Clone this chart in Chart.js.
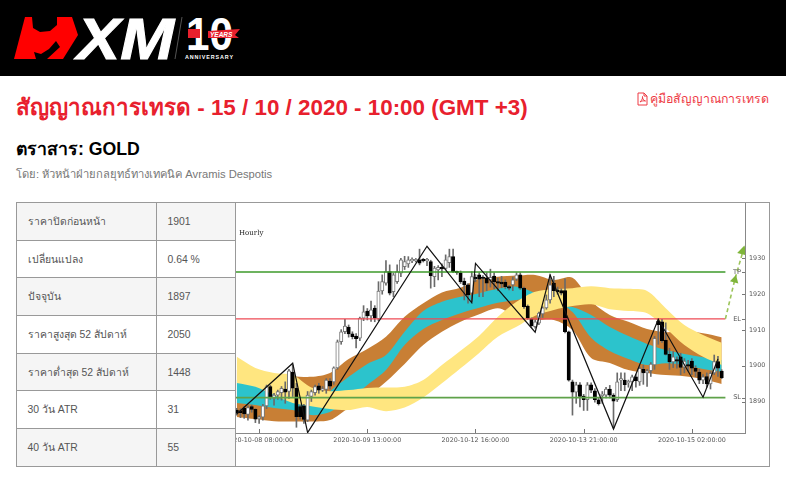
<!DOCTYPE html>
<html lang="th"><head><meta charset="utf-8">
<script src="https://cdn.jsdelivr.net/npm/chart.js@4/dist/chart.umd.min.js"></script>
<style>
html,body{margin:0;padding:0;background:#fff;width:786px;height:479px;overflow:hidden;font-family:"Liberation Sans",Arial,sans-serif}
#hdr{position:absolute;left:0;top:0;width:786px;height:76px;background:#000}
#title{position:absolute;left:16px;top:94px;font-size:22.4px;font-weight:bold;color:#e8202d;white-space:nowrap;line-height:28px}
#link{position:absolute;left:650px;top:91px;font-size:12.35px;color:#ee3a45;white-space:nowrap;line-height:16px}
#ico{position:absolute;left:637px;top:92px}
#inst{position:absolute;left:16px;top:138px;font-size:17.7px;font-weight:bold;color:#000;white-space:nowrap;line-height:22px}
#by{position:absolute;left:16px;top:166px;font-size:11.2px;color:#777;white-space:nowrap;line-height:16px}
table{position:absolute;left:16px;top:202px;border-collapse:collapse;table-layout:fixed;width:220px;font-size:10.4px;color:#555}
td{border:1px solid #999;height:37.7px;padding:0 0 0 10.5px;box-sizing:border-box}
td:first-child{width:140px}
tr:nth-child(odd) td{background:#f5f5f5}
#frame{position:absolute;left:235px;top:202px;width:533px;height:263px;border:1px solid #999}
#cw{position:absolute;left:236px;top:203px;width:533px;height:263px}
</style></head><body>
<div id="hdr">
<svg width="260" height="76" style="position:absolute;left:0;top:0">
<polygon points="14,59 25,17 72,17 78,35 63,59" fill="#ff0000"/>
<polygon points="32,17 33,28 40,32 50,31 57,25 57,17" fill="#000"/>
<polygon points="34,52 36,59 47,59 60,47 56,41 49,49 41,54" fill="#000"/>
<text x="77" y="59" font-family="Liberation Sans" font-weight="bold" font-style="italic" font-size="58" fill="#fff" stroke="#fff" stroke-width="1" textLength="97" lengthAdjust="spacingAndGlyphs">XM</text>
<line x1="182" y1="17" x2="175" y2="59" stroke="#555" stroke-width="1"/>
<text x="186" y="50" font-family="Liberation Sans" font-weight="bold" font-size="46" fill="#fff" textLength="47" lengthAdjust="spacingAndGlyphs">10</text>
<rect x="188" y="29" width="12" height="9" fill="#e8202d"/>
<polygon points="208,31 240,29 235,35 239,38 208,38" fill="#e8202d"/>
<text x="210" y="37" font-family="Liberation Sans" font-weight="bold" font-style="italic" font-size="6.5" fill="#fff">YEARS</text>
<text x="185" y="59" font-family="Liberation Sans" font-weight="bold" font-size="5.4" fill="#fff" textLength="48">ANNIVERSARY</text>
</svg></div>
<div id="title">สัญญาณการเทรด - 15 / 10 / 2020 - 10:00 (GMT +3)</div>
<svg id="ico" width="11" height="14" viewBox="0 0 11 14"><path d="M1 1H7L10 4V13H1Z M7 1V4H10 M3 10C5 8 6 6 5.5 4.5C5 6 6.5 8.5 8.500 9C6.500 8.500 4.500 9 3 10Z" fill="none" stroke="#ee3a45" stroke-width="1"/></svg>
<div id="link">คู่มือสัญญาณการเทรด</div>
<div id="inst">ตราสาร: GOLD</div>
<div id="by">โดย: หัวหน้าฝ่ายกลยุทธ์ทางเทคนิค Avramis Despotis</div>
<table id="tb"></table>
<div id="frame"></div>
<div id="cw"><canvas id="c" width="533" height="263" style="display:block;width:533px;height:263px"></canvas></div>
<script>
const statLabels=["ราคาปิดก่อนหน้า","เปลี่ยนแปลง","ปัจจุบัน","ราคาสูงสุด 52 สัปดาห์","ราคาต่ำสุด 52 สัปดาห์","30 วัน ATR","40 วัน ATR"];
const statValues=["1901","0.64 %","1897","2050","1448","31","55"];

const tickIndex=[6,35,64,93,122];
const tickLabels=["2020-10-08 08:00:00","2020-10-09 13:00:00","2020-10-12 16:00:00","2020-10-13 21:00:00","2020-10-15 02:00:00"];
const yTicks=[1890,1900,1910,1920,1930];
const levelNames=["TP","EL","SL"];
const levelValues=[1926.2,1913.1,1891.1];
const levelEnd=131;

const opens=[1887.6,1887.4,1888.1,1886.4,1888.6,1887.8,1885.2,1885.6,1888.8,1894.2,1890.9,1891.8,1892.5,1893.5,1892.8,1898.2,1893.7,1888.6,1888.8,1884.8,1891.4,1892.5,1894.4,1893.2,1893.4,1895.7,1895.5,1899.4,1906.7,1909.5,1910.8,1908.9,1908.3,1907.7,1913.3,1915.3,1913.9,1916.1,1913.1,1920.9,1923.1,1926.3,1920.7,1923.5,1925.9,1927.7,1928.5,1929.3,1929.3,1929.6,1929.4,1929.3,1929.1,1924.9,1926.8,1927.5,1927.2,1928.8,1930.5,1926.2,1926,1923.7,1922.6,1920.3,1924.5,1925.4,1924.6,1924.6,1924,1925.1,1923.5,1923.4,1923.4,1921.9,1922.6,1924.2,1925.4,1921.7,1916.7,1913.1,1910.9,1911.9,1914.5,1916.2,1918.4,1923.1,1921.2,1921,1921,1909.5,1895.5,1892.6,1894.7,1891.5,1890.5,1894.7,1893,1890.5,1891.6,1891.8,1893.5,1891.8,1890.5,1896,1896,1895.2,1895.5,1896.9,1895.5,1899,1898,1898.6,1900.2,1912.5,1912.3,1907.2,1903.2,1901.1,1901.6,1902.5,1899.6,1900.3,1901.3,1899.3,1898.2,1896,1897,1894.9,1898,1901.2,1898.5];
const highs=[1888.1,1888,1888.6,1888.8,1889,1888,1886,1889.2,1894.6,1894.5,1892.3,1893.2,1894.2,1895.5,1899,1900.2,1895.1,1889,1889.2,1892.8,1893.2,1894.6,1895.1,1894.2,1896.4,1896.4,1899.7,1907.2,1910.1,1913,1911.4,1909.5,1909,1913.6,1916.8,1916,1918.1,1916.8,1923.5,1925.4,1929.4,1928.2,1925.9,1928.2,1930,1930.6,1930.5,1930.2,1930,1932.6,1930,1930,1929.5,1927.8,1928,1928.5,1931,1932.6,1932.6,1926.5,1926.5,1924.5,1923,1926.3,1925.5,1926,1925.2,1926,1927,1926,1924.5,1925,1924,1922.5,1924.8,1926,1926,1922,1917,1913.4,1912.8,1915,1916.5,1919.8,1925.4,1925,1922,1921.5,1924.3,1909.7,1896,1895.4,1895.3,1892,1895.3,1895.2,1893.6,1891,1892.8,1894,1894.5,1892.2,1898,1898,1898,1896,1897.4,1897.5,1899.7,1900.2,1899,1900.9,1908.2,1913.2,1913,1912,1904.9,1904,1902.5,1903.5,1902,1901.5,1902,1900,1899,1897.5,1898,1898.4,1903,1902.6,1898.9];
const lows=[1886.2,1885.5,1885.3,1884.8,1887,1884.1,1883.9,1884.8,1888,1890.6,1889,1890.6,1890.4,1889.5,1890.9,1891.4,1882.8,1885.1,1883.9,1884.4,1890,1891.8,1892.3,1892.8,1892.3,1893.5,1894.8,1899,1906,1909,1908,1907.5,1905,1907,1912.6,1912.8,1912.4,1912.3,1912.6,1920,1922.5,1919.8,1919.3,1923,1924.9,1926.9,1927.5,1928.8,1929,1928.2,1929,1928,1921.7,1922.1,1924,1924.9,1926.9,1927.5,1926,1925.5,1923,1918.4,1917.5,1918,1923.5,1919.3,1919.3,1921,1922,1921.5,1921,1921.8,1921.5,1921.2,1921,1923.8,1921.3,1916,1913,1910.7,1910.5,1911.5,1913.5,1915.8,1917.5,1919.3,1920,1919.8,1909.2,1895.7,1886.2,1889.5,1888.5,1887.5,1887.5,1892.5,1889.8,1889,1889.5,1891,1891,1882.6,1890,1893,1893,1894,1893,1894,1894.5,1894.8,1894.2,1897,1899,1906,1906.5,1903,1899,1899.5,1899.3,1897.5,1898,1898.5,1897.5,1897,1895,1895,1894,1893.5,1897.5,1897,1896.4];
const closes=[1886.9,1886.9,1886.5,1888.3,1887.8,1885.1,1885.6,1888.8,1894.2,1891.2,1891.8,1892.8,1893.7,1892.6,1898.6,1893.7,1885.8,1885.8,1885,1891.8,1892.8,1894.2,1893.2,1893.6,1896,1894.3,1899.4,1906.7,1909.5,1911.1,1908.9,1908.1,1907.6,1913.3,1915.1,1913.9,1915.6,1913.3,1920.9,1923.5,1926.3,1920.3,1925.4,1926.3,1929.6,1929.1,1929.6,1929.5,1929.4,1928.7,1929.3,1929.4,1925.2,1927.3,1927.5,1927.1,1929.6,1930.5,1926.3,1926,1923.5,1922.6,1919.8,1924.9,1924.3,1924.2,1924.4,1923.1,1924.7,1923.5,1923.1,1922.9,1922.1,1921.7,1924,1925.4,1921.7,1916.5,1913.3,1911.2,1912.3,1914.7,1916.2,1918.4,1922.6,1921,1920.7,1920.3,1909.5,1896,1892.6,1894.7,1891.4,1890.5,1894.7,1893.2,1890.5,1889.4,1892.1,1893.5,1891.8,1890.1,1895.5,1896.4,1894.7,1895.6,1896.9,1895.8,1899.3,1898,1898.6,1900.5,1907.7,1911.5,1907,1903.2,1901.1,1902.5,1901.3,1899.5,1901.3,1899.9,1899.3,1898.4,1896,1896.9,1894.9,1897.9,1901.2,1899.3,1896.7];

const bandIndex=[0,5,10,15,20,25,30,35,40,45,50,55,60,65,70,75,80,85,90,95,100,105,110,115,120,125,130];
const yellowTop=[1902.5,1899.4,1898,1897.4,1893.9,1892.9,1893.2,1893.8,1893.9,1894.1,1896,1900.2,1904.2,1908.4,1913.7,1917.9,1920.7,1921.4,1921.7,1922.2,1921.7,1921.5,1920.9,1916.1,1911.4,1908.6,1906.4];
const yellowBottom=[1895.2,1894.1,1891.8,1889.6,1888.7,1887.9,1887.6,1888.5,1887.3,1888.3,1891.1,1895.1,1899.3,1903.6,1908.1,1910.9,1914,1915.6,1916.7,1917.2,1915.8,1915.3,1914.7,1910.5,1905.8,1902.5,1900.2];
const brownTop=[1898.8,1898.2,1897.7,1897.1,1896.9,1898,1901.9,1904.7,1908.1,1913.7,1917.5,1920.5,1921.8,1924.3,1924.9,1925.2,1925.4,1924,1924.6,1918.1,1914.2,1912.3,1910.3,1909.4,1909.7,1909.1,1908];
const brownBottom=[1885.7,1885.1,1884.5,1884.4,1884.4,1884.8,1888.2,1891.3,1895.5,1900.5,1905.8,1909.5,1912.3,1914.4,1916.1,1913.9,1912.8,1912.8,1910,1902.2,1900.8,1898.8,1898,1897.4,1897.1,1896.3,1894.9];
const cyanTop=[1896,1894.9,1892.7,1890.4,1889,1892.9,1896.9,1900.5,1903,1909.5,1915.3,1917.9,1919.3,1920.3,1921.5,1922.1,1920.3,1917,1916.4,1914.2,1910.8,1908.3,1906.1,1904.4,1903.3,1902.4,1901.6];
const cyanBottom=[1889.6,1889,1888.2,1887.6,1886.2,1887.1,1890.4,1894.6,1898.8,1905.8,1910.3,1912.8,1914.7,1916.2,1917.6,1918.4,1919,1918.4,1915,1907.8,1904.1,1901.9,1900.2,1900.7,1900.2,1899.1,1898.3];

const zigzagIndex=[0,15,19,51,63,64,80,84,101,113,125,129];
const zigzagValues=[1886.5,1900.7,1881.3,1933.4,1917.6,1928.6,1909.4,1925.4,1882.3,1913,1891.2,1901.9];
const arrowIndex=[131,133.5,135.7];
const arrowValues=[1913.1,1924,1932];

document.getElementById('tb').innerHTML=statLabels.map((l,i)=>'<tr><td>'+l+'</td><td>'+statValues[i]+'</td></tr>').join('');

const band=(vals,color,fill,order)=>({type:'line',data:bandIndex.map((x,i)=>({x,y:vals[i]})),borderWidth:0,pointRadius:0,tension:0.3,fill:fill?'+1':false,backgroundColor:color,borderColor:color,order});
const level=(v,color,w)=>({type:'line',data:[{x:-1,y:v},{x:levelEnd,y:v}],borderColor:color,borderWidth:w,pointRadius:0,fill:false,order:2});

const idx=opens.map((_,i)=>i);
const innerTicks={id:'innerTicks',afterDraw(ch){
 const c=ch.ctx,a=ch.chartArea,xs=ch.scales.x,ys=ch.scales.y;
 c.save();c.strokeStyle='#777';c.lineWidth=1;
 tickIndex.forEach(t=>{const p=Math.round(xs.getPixelForValue(t))+.5;c.beginPath();c.moveTo(p,a.bottom);c.lineTo(p,a.bottom-4);c.stroke();});
 yTicks.concat(levelValues).forEach(t=>{const p=Math.round(ys.getPixelForValue(t))+.5;c.beginPath();c.moveTo(a.right,p);c.lineTo(a.right-3,p);c.stroke();});
 c.fillStyle='#555';c.font='6.6px "DejaVu Sans"';c.textAlign='right';c.textBaseline='middle';
 levelNames.forEach((n,i)=>c.fillText(n,a.right-4,ys.getPixelForValue(levelValues[i])));
 c.fillStyle='#222';c.textAlign='left';c.font='7px "DejaVu Serif"';c.fillText('Hourly',3,30.5);
 c.restore();
}};
new Chart(document.getElementById('c'),{
 data:{datasets:[
  band(brownTop,'#c87f35',true,8),band(brownBottom,'#c87f35',false,8),
  band(cyanTop,'#2cc3cc',true,7),band(cyanBottom,'#2cc3cc',false,7),
  band(yellowTop,'#ffe680',true,6),band(yellowBottom,'#ffe680',false,6),
  {type:'bar',grouped:false,data:idx.map(i=>({x:i,y:[lows[i],highs[i]]})),backgroundColor:'#6a6a6a',barThickness:1,order:5},
  {type:'bar',grouped:false,data:idx.map(i=>({x:i,y:[opens[i],closes[i]]})),backgroundColor:idx.map(i=>closes[i]>=opens[i]?'#fff':'#000'),borderColor:idx.map(i=>closes[i]>=opens[i]?'#777':'#000'),borderWidth:1,borderSkipped:false,barThickness:3.4,minBarLength:1.5,order:4},
  level(levelValues[0],'#3d9a2a',1.4),level(levelValues[1],'#ee4a55',1.4),level(levelValues[2],'#5fa24a',1.8),
  {type:'line',data:zigzagIndex.map((x,i)=>({x,y:zigzagValues[i]})),borderColor:'#111',borderWidth:1.2,pointRadius:0,tension:0,fill:false,order:1},
  {type:'line',data:arrowIndex.map((x,i)=>({x,y:arrowValues[i]})),borderColor:'#9cc45a',borderWidth:1.6,borderDash:[4,3],pointStyle:'triangle',pointRadius:[0,5,6],pointRotation:14,pointBackgroundColor:'#7fb53a',pointBorderColor:'#7fb53a',pointBorderWidth:0,fill:false,order:1}
 ]},
 options:{responsive:false,animation:false,events:[],layout:{padding:0,autoPadding:false},
  plugins:{legend:{display:false},tooltip:{enabled:false},title:{display:false}},
  scales:{
   x:{type:'linear',offset:false,min:-0.2,max:136.25,position:'bottom',
    grid:{display:false,drawTicks:false,tickLength:0},border:{display:true,color:'#888',width:1},
    afterBuildTicks(s){s.ticks=tickIndex.map(v=>({value:v}));},
    ticks:{autoSkip:false,maxRotation:0,minRotation:0,padding:4,color:'#555',font:{family:'"DejaVu Sans"',size:6.4},callback:v=>tickLabels[tickIndex.indexOf(v)]||''},
    afterFit(s){s.height=33;s.paddingLeft=0;s.paddingRight=0;}},
   y:{type:'linear',position:'right',min:1881.2,max:1945.5,
    grid:{display:false,drawTicks:false,tickLength:0},border:{display:true,color:'#888',width:1},
    afterBuildTicks(s){s.ticks=yTicks.map(v=>({value:v}));},
    ticks:{padding:4,color:'#555',font:{family:'"DejaVu Sans"',size:6.4},callback:v=>String(v)},
    afterFit(s){s.width=24;s.paddingTop=0;s.paddingBottom=0;}}
  }},
 plugins:[innerTicks]
});
</script></body></html>
